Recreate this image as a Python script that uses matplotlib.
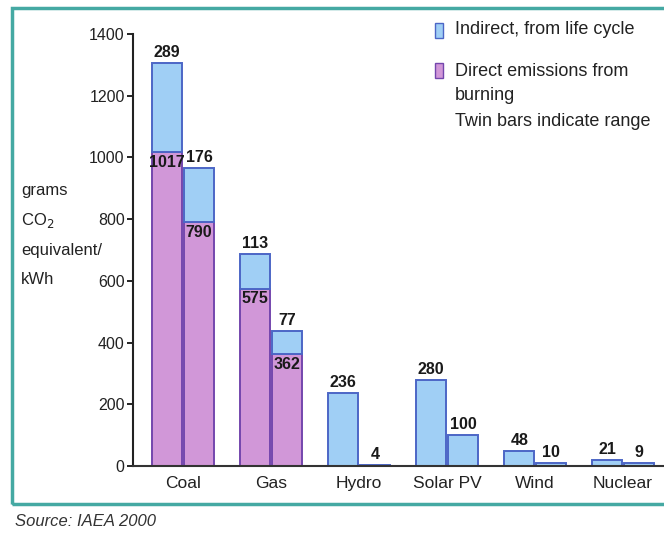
import numpy as np
import matplotlib
matplotlib.use("Agg")
import matplotlib.pyplot as plt
from matplotlib.patches import Rectangle

plt.rcParams['font.family'] = ['Liberation Sans', 'DejaVu Sans']

# data: twin bars per source (high / low of the range)
sources = ["Coal", "Gas", "Hydro", "Solar PV", "Wind", "Nuclear"]
direct_high = [1017, 575, 0, 0, 0, 0]
indirect_high = [289, 113, 236, 280, 48, 21]
direct_low = [790, 362, 0, 0, 0, 0]
indirect_low = [176, 77, 4, 100, 10, 9]
yticks = [0, 200, 400, 600, 800, 1000, 1200, 1400]

blue = "#a0cff5"
blue_edge = "#4c66c6"
purple = "#d197d8"
purple_edge = "#7446ad"

fig = plt.figure(figsize=(6.64, 5.37), dpi=100)
ax = fig.add_axes([0.2003, 0.1322, 0.7997, 0.8045])

x = np.arange(len(sources))
w = 0.34
off = 0.18

for xs, d, ind in [(x - off, direct_high, indirect_high), (x + off, direct_low, indirect_low)]:
    ax.bar(xs, d, width=w, color=purple, edgecolor=purple_edge, linewidth=1.4)
    ax.bar(xs, ind, width=w, bottom=d, color=blue, edgecolor=blue_edge, linewidth=1.4)
    for xi, dv, iv in zip(xs, d, ind):
        ax.annotate(str(iv), (xi, dv + iv), xytext=(0, 2), textcoords="offset points",
                    ha="center", va="bottom", fontsize=11.5, fontweight="bold", color="#1a1a1a")
        if dv > 0:
            ax.annotate(str(dv), (xi, dv), xytext=(0, -2), textcoords="offset points",
                        ha="center", va="top", fontsize=11.5, fontweight="bold", color="#1a1a1a")

ax.set_xlim(-0.57, 5.466)
ax.set_ylim(0, 1400)
ax.set_yticks(yticks)
ax.set_xticks(x)
ax.set_xticklabels(sources, fontsize=12.5, color="#222222")
ax.tick_params(axis="x", length=0, pad=7)
ax.tick_params(axis="y", length=4, width=1.2, labelsize=11.5, labelcolor="#222222", pad=2)
for s in ["top", "right"]:
    ax.spines[s].set_visible(False)
ax.spines["left"].set_linewidth(1.5)
ax.spines["bottom"].set_linewidth(1.5)
ax.spines["bottom"].set_color("#333333")
ax.spines["left"].set_color("#222222")

# y label block
ylab = ["grams", "CO$_2$", "equivalent/", "kWh"]
for i, t in enumerate(ylab):
    fig.text(21 / 664, 1 - (190 + 30 * i) / 537, t, fontsize=12, color="#222222", va="center")

# legend
fig.patches.append(Rectangle((435 / 664, 1 - 38 / 537), 8 / 664, 15 / 537, transform=fig.transFigure,
                             facecolor=blue, edgecolor=blue_edge, linewidth=1))
fig.patches.append(Rectangle((435 / 664, 1 - 78 / 537), 8 / 664, 15 / 537, transform=fig.transFigure,
                             facecolor=purple, edgecolor=purple_edge, linewidth=1))
legend_lines = [(30, "Indirect, from life cycle"), (71, "Direct emissions from"),
                (96, "burning"), (121, "Twin bars indicate range")]
for yy, t in legend_lines:
    fig.text(455 / 664, 1 - yy / 537, t, fontsize=13, color="#222222", va="center")

# teal frame
fig.patches.append(Rectangle((12 / 664, 1 - 504 / 537), 0.99, (504 - 8) / 537, transform=fig.transFigure,
                             facecolor="none", edgecolor="#45a9a3", linewidth=2.5))

fig.text(15 / 664, 1 - 521 / 537, "Source: IAEA 2000", fontsize=12, style="italic", color="#333333", va="center")

fig.savefig("out.png", dpi=100)
